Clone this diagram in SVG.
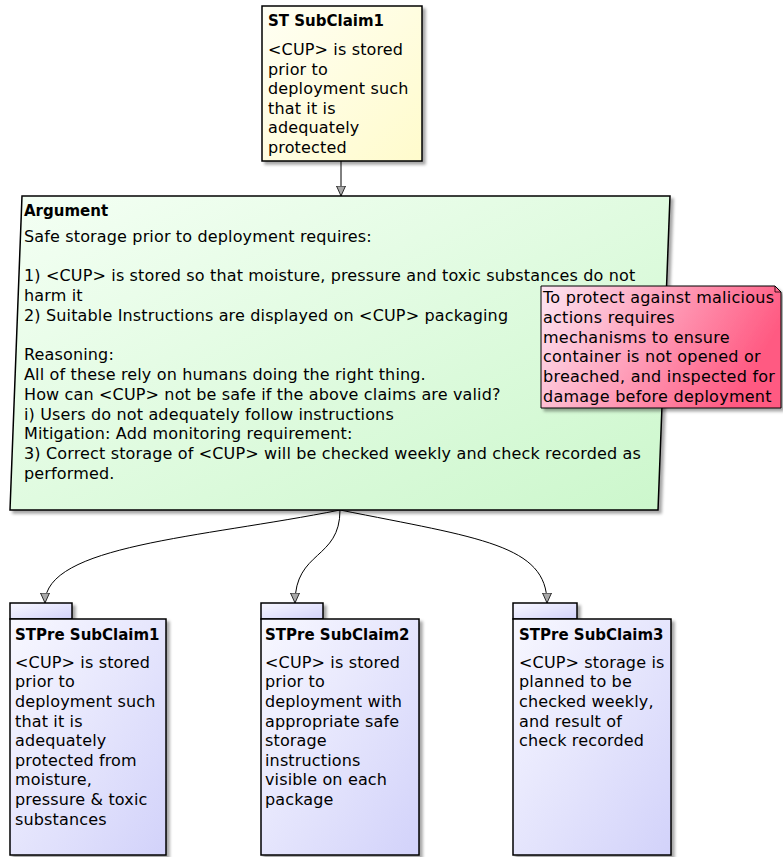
<svg xmlns="http://www.w3.org/2000/svg" width="783" height="857" viewBox="0 0 783 857">
<style>
text{font-family:"DejaVu Sans","Noto Sans",sans-serif;font-size:16px;letter-spacing:0.15px;fill:#000}
.n{letter-spacing:0.25px}
.b{font-weight:bold;font-size:15px;letter-spacing:0}
.box{stroke:#000;stroke-width:1.5}
.con{fill:none;stroke:#000;stroke-width:1}
</style>
<defs>
<linearGradient id="gy" x1="0" y1="0" x2="1" y2="1"><stop offset="0" stop-color="#fffff4"/><stop offset="1" stop-color="#fffbcc"/></linearGradient>
<linearGradient id="gg" x1="0" y1="0" x2="1" y2="1"><stop offset="0" stop-color="#f4fff4"/><stop offset="1" stop-color="#ccf7cc"/></linearGradient>
<linearGradient id="gb" x1="0" y1="0" x2="1" y2="1"><stop offset="0" stop-color="#f8f8ff"/><stop offset="1" stop-color="#d2d2fa"/></linearGradient>
<linearGradient id="gp" x1="0" y1="0" x2="1" y2="0.3"><stop offset="0" stop-color="#fde6f3"/><stop offset="1" stop-color="#ff5a82"/></linearGradient>
<filter id="sh" x="-10%" y="-10%" width="130%" height="130%"><feDropShadow dx="3" dy="3" stdDeviation="1.5" flood-color="#000" flood-opacity="0.35"/></filter>
<marker id="ah" viewBox="0 0 10 10" refX="10" refY="5" markerWidth="10" markerHeight="10" markerUnits="userSpaceOnUse" orient="auto"><path d="M0,0.5 L10,5 L0,9.5 z" fill="#a8a8a8" stroke="#000" stroke-width="0.8"/></marker>
</defs>

<g id="connectors">
<path class="con" d="M341,161 L341,196" marker-end="url(#ah)"/>
<path class="con" d="M340,510 C200,538 45,545 45,603" marker-end="url(#ah)"/>
<path class="con" d="M340,510 C340,560 295,550 295,603" marker-end="url(#ah)"/>
<path class="con" d="M340,510 C480,538 547,545 547,603" marker-end="url(#ah)"/>
</g>

<g id="st-subclaim1">
<rect class="box" x="262" y="6" width="160" height="155" fill="url(#gy)" filter="url(#sh)"/>
<text class="b" x="268" y="26">ST SubClaim1</text>
<text x="268" y="55">&lt;CUP&gt; is stored</text>
<text x="268" y="74.5">prior to</text>
<text x="268" y="94">deployment such</text>
<text x="268" y="113.5">that it is</text>
<text x="268" y="133">adequately</text>
<text x="268" y="152.5">protected</text>
</g>

<g id="argument">
<path class="box" d="M22,196 L670,196 L658,510 L10,510 Z" fill="url(#gg)" filter="url(#sh)"/>
<text class="b" x="24" y="216">Argument</text>
<text x="24" y="241.5">Safe storage prior to deployment requires:</text>
<text x="24" y="281">1) &lt;CUP&gt; is stored so that moisture, pressure and toxic substances do not</text>
<text x="24" y="300.8">harm it</text>
<text x="24" y="320.6">2) Suitable Instructions are displayed on &lt;CUP&gt; packaging</text>
<text x="24" y="360.2">Reasoning:</text>
<text x="24" y="380">All of these rely on humans doing the right thing.</text>
<text x="24" y="399.8">How can &lt;CUP&gt; not be safe if the above claims are valid?</text>
<text x="24" y="419.6">i) Users do not adequately follow instructions</text>
<text x="24" y="439.4">Mitigation: Add monitoring requirement:</text>
<text x="24" y="459.2">3) Correct storage of &lt;CUP&gt; will be checked weekly and check recorded as</text>
<text x="24" y="479">performed.</text>
</g>

<g id="note">
<path d="M541,286 L775,286 L781,292 L781,408 L541,408 Z" fill="url(#gp)" stroke="#000" stroke-width="1" filter="url(#sh)"/>
<path d="M775,286 L775,292 L781,292" fill="none" stroke="#000" stroke-width="0.8"/>
<text class="n" x="543" y="303">To protect against malicious</text>
<text class="n" x="543" y="322.8">actions requires</text>
<text class="n" x="543" y="342.6">mechanisms to ensure</text>
<text class="n" x="543" y="362.4">container is not opened or</text>
<text class="n" x="543" y="382.2">breached, and inspected for</text>
<text class="n" x="543" y="402">damage before deployment</text>
</g>

<g id="stpre-subclaim1">
<rect class="box" x="10" y="603" width="62" height="16" fill="url(#gb)" filter="url(#sh)"/>
<rect class="box" x="10" y="619" width="156" height="236" fill="url(#gb)" filter="url(#sh)"/>
<text class="b" x="15" y="640">STPre SubClaim1</text>
<text x="15" y="667.7">&lt;CUP&gt; is stored</text>
<text x="15" y="687.3">prior to</text>
<text x="15" y="706.9">deployment such</text>
<text x="15" y="726.5">that it is</text>
<text x="15" y="746.1">adequately</text>
<text x="15" y="765.7">protected from</text>
<text x="15" y="785.3">moisture,</text>
<text x="15" y="804.9">pressure &amp; toxic</text>
<text x="15" y="824.5">substances</text>
</g>

<g id="stpre-subclaim2">
<rect class="box" x="261" y="603" width="62" height="16" fill="url(#gb)" filter="url(#sh)"/>
<rect class="box" x="261" y="619" width="158" height="236" fill="url(#gb)" filter="url(#sh)"/>
<text class="b" x="265" y="640">STPre SubClaim2</text>
<text x="265" y="667.7">&lt;CUP&gt; is stored</text>
<text x="265" y="687.3">prior to</text>
<text x="265" y="706.9">deployment with</text>
<text x="265" y="726.5">appropriate safe</text>
<text x="265" y="746.1">storage</text>
<text x="265" y="765.7">instructions</text>
<text x="265" y="785.3">visible on each</text>
<text x="265" y="804.9">package</text>
</g>

<g id="stpre-subclaim3">
<rect class="box" x="513" y="603" width="64" height="16" fill="url(#gb)" filter="url(#sh)"/>
<rect class="box" x="513" y="619" width="158" height="236" fill="url(#gb)" filter="url(#sh)"/>
<text class="b" x="519" y="640">STPre SubClaim3</text>
<text x="519" y="667.7">&lt;CUP&gt; storage is</text>
<text x="519" y="687.3">planned to be</text>
<text x="519" y="706.9">checked weekly,</text>
<text x="519" y="726.5">and result of</text>
<text x="519" y="746.1">check recorded</text>
</g>
</svg>
